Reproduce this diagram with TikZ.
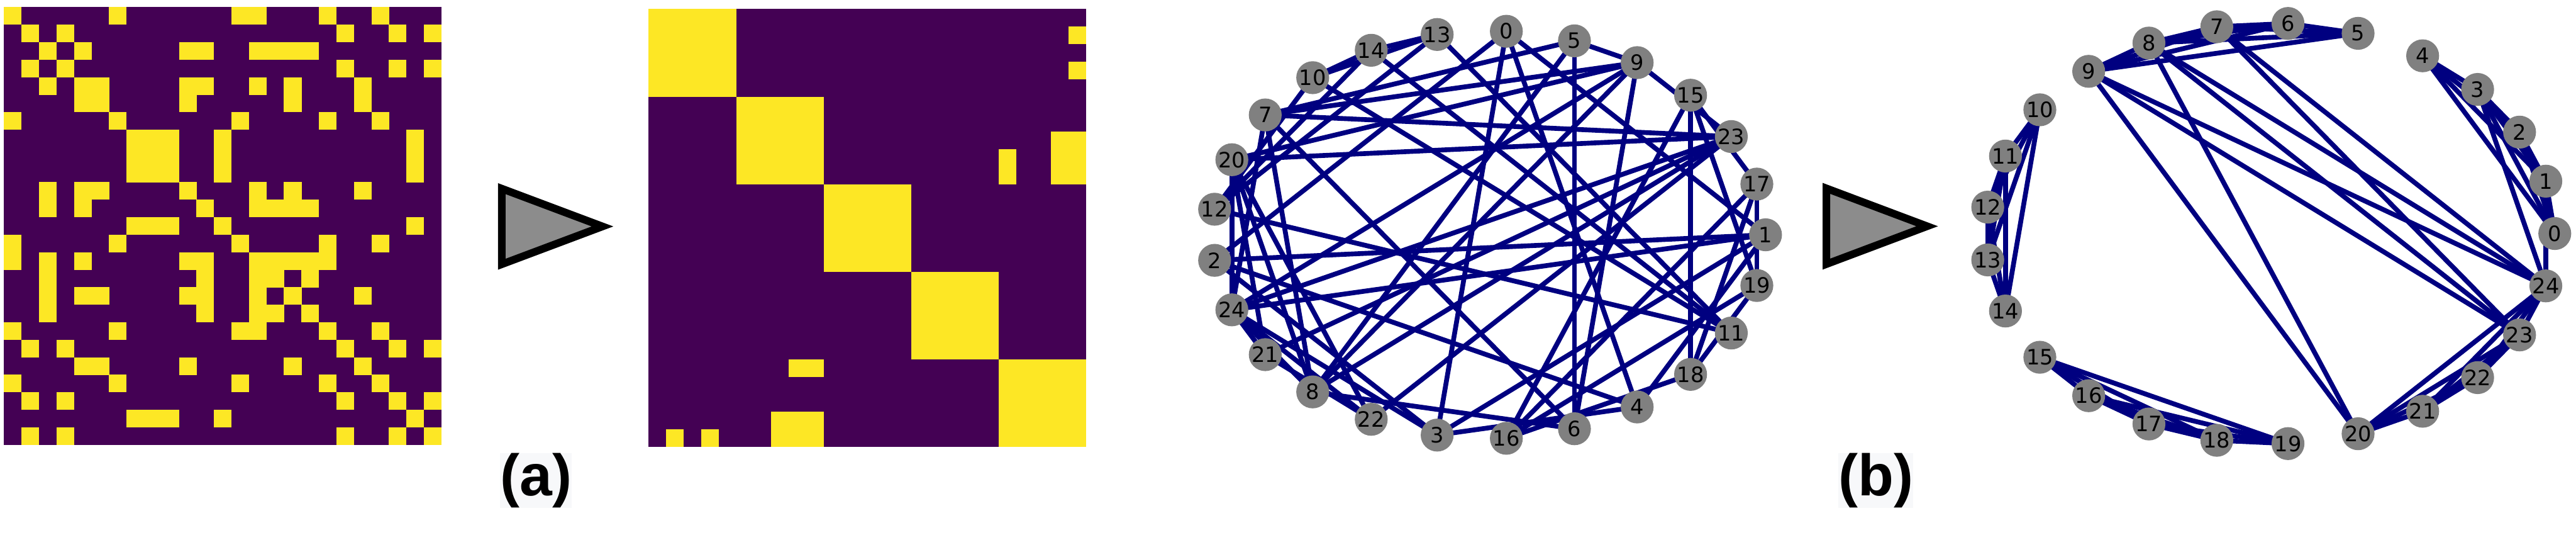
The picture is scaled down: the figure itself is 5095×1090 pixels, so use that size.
\documentclass[tikz,border=0pt]{standalone}
\usepackage{fontspec}
\setsansfont{DejaVu Sans}
\newfontfamily\panelfont{Liberation Sans}
\usetikzlibrary{backgrounds}
\definecolor{vpurple}{RGB}{68,1,84}
\definecolor{vyellow}{RGB}{253,231,37}
\definecolor{vgray}{RGB}{128,128,128}
\definecolor{tgray}{RGB}{140,140,140}
\definecolor{enavy}{RGB}{0,0,128}
\definecolor{lblbg}{RGB}{247,248,250}

\begin{document}
\begin{tikzpicture}[x=0.01cm,y=-0.01cm]
\tikzset{vtx/.style={circle,fill=vgray,inner sep=0pt,minimum size=0.65cm,
    font=\sffamily\fontsize{11.9}{12}\selectfont},
  edge/.style={enavy,line width=0.095cm},
  arrowtri/.style={draw=black,fill=tgray,line width=0.15cm,miter limit=10},
  panel/.style={fill=lblbg,inner sep=0pt,minimum width=1.3cm,minimum height=1cm,
    font=\panelfont\bfseries\fontsize{32.9}{34}\selectfont}}
\useasboundingbox (0,0) rectangle (5095,1090);
% ---------- adjacency matrix, shuffled order ----------
\newcommand\mcell[4]{\fill[vyellow] ({#1+#4*34.6},{#2+#3*34.6}) rectangle +(34.9,34.9);}
\fill[vpurple] (8,14) rectangle +(865,865);
\foreach \r/\cl in {0/{0,6,13,14,18,21}, 1/{1,3,19,22,24}, 2/{2,4,10,11,14,15,16,17},
    3/{1,3,19,22,24}, 4/{2,4,5,10,11,14,16,20}, 5/{4,5,10,16,20}, 6/{0,6,13,18,21},
    7/{7,8,9,12,23}, 8/{7,8,9,12,23}, 9/{7,8,9,12,23}, 10/{2,4,5,10,14,16,20},
    11/{2,4,11,14,15,16,17}, 12/{7,8,9,12,23}, 13/{0,6,13,18,21},
    14/{0,2,4,10,11,14,15,16,17,18}, 15/{2,11,14,15,17}, 16/{2,4,5,10,11,14,16,20},
    17/{2,11,14,15,17}, 18/{0,6,13,14,18,21}, 19/{1,3,19,22,24}, 20/{4,5,10,16,20},
    21/{0,6,13,18,21}, 22/{1,3,19,22,24}, 23/{7,8,9,12,23}, 24/{1,3,19,22,24}}
  \foreach \c in \cl {\mcell{8}{14}{\r}{\c}}
% ---------- adjacency matrix, grouped order ----------
\fill[vpurple] (1283,18) rectangle +(865,865);
\foreach \g in {0,...,4} \fill[vyellow] ({1283+\g*173},{18+\g*173}) rectangle +(173,173);
\foreach \r/\c in {1/24,3/24,24/1,24/3,7/23,7/24,8/23,8/24,9/23,9/24,
    23/7,24/7,23/8,24/8,23/9,24/9,8/20,9/20,20/8,20/9}
  {\mcell{1283}{18}{\r}{\c}}
% ---------- arrows ----------
\draw[arrowtri] (992.5,372.8) -- (1191.7,447.5) -- (992.5,522.2) -- cycle;
\draw[arrowtri] (3612.5,372.3) -- (3811.7,447.1) -- (3612.5,521.9) -- cycle;
% ---------- panel labels ----------
\node[panel] (la) at (1060,950) {(a)};
\node[panel] (lb) at (3710,950) {(b)};
% ---------- graph, shuffled order ----------
\foreach \n [count=\k from 0] in {1,17,23,15,9,5,0,13,14,10,7,20,12,2,24,21,8,22,3,16,6,4,18,11,19}
  \node[vtx] (A\n) at ({2945+547*cos(14.4*\k)},{464-403*sin(14.4*\k)}) {\n};
% ---------- graph, grouped order ----------
\foreach \n in {0,...,24}
  \node[vtx] (B\n) at ({4490+563*cos(14.4*\n)},{461.5-416*sin(14.4*\n)}) {\n};
% ---------- edges (same graph twice), behind the vertices ----------
\begin{pgfonlayer}{background}
\foreach \gr in {A,B}{
  \foreach \g in {0,5,10,15,20}
    \foreach \i in {0,...,3}{
      \pgfmathtruncatemacro\ii{\i+1}
      \foreach \j in {\ii,...,4}{
        \pgfmathtruncatemacro\ea{\g+\i}
        \pgfmathtruncatemacro\eb{\g+\j}
        \draw[edge] (\gr\ea.center) -- (\gr\eb.center);}}
  \foreach \ea/\eb in {1/24,3/24,7/23,7/24,8/23,8/24,9/23,9/24,8/20,9/20}
    \draw[edge] (\gr\ea.center) -- (\gr\eb.center);
}
\end{pgfonlayer}
\end{tikzpicture}
\end{document}
